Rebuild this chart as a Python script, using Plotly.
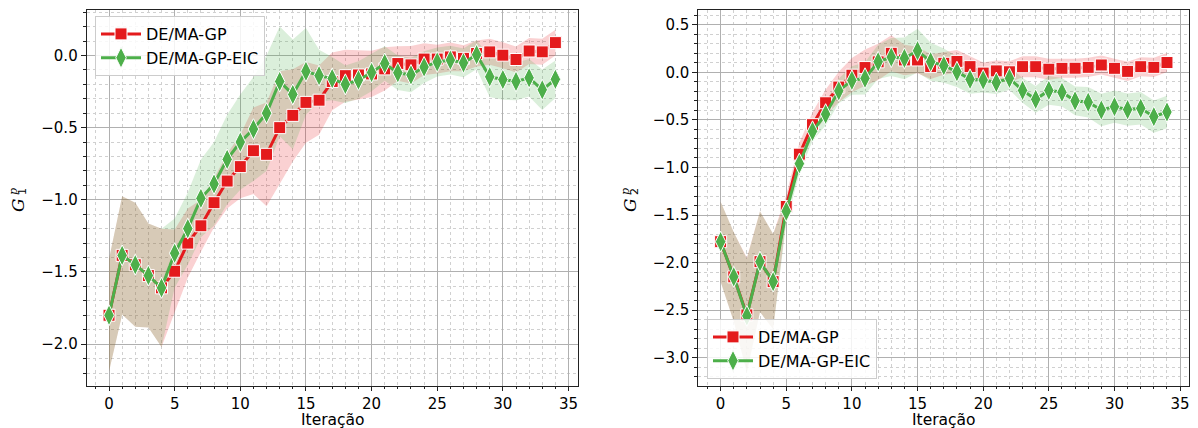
import plotly.graph_objects as go

iters = list(range(35))

# Left panel (G1^p)
g1_gp_mean = [-1.80, -1.385, -1.45, -1.525, -1.61, -1.495, -1.30, -1.18, -1.02, -0.87,
              -0.77, -0.66, -0.685, -0.50, -0.415, -0.325, -0.31, -0.18, -0.14, -0.135,
              -0.128, -0.093, -0.056, -0.065, -0.025, -0.025, -0.01, -0.02, 0.014, 0.025,
              0.002, -0.028, 0.031, 0.025, 0.089]
g1_gp_std = [0.39, 0.41, 0.43, 0.36, 0.41, 0.29, 0.24, 0.18, 0.17, 0.19,
             0.22, 0.30, 0.36, 0.39, 0.32, 0.28, 0.24, 0.20, 0.18, 0.17,
             0.16, 0.15, 0.12, 0.13, 0.11, 0.10, 0.10, 0.09, 0.09, 0.09,
             0.09, 0.09, 0.09, 0.09, 0.09]
g1_eic_mean = [-1.80, -1.385, -1.45, -1.525, -1.61, -1.37, -1.20, -0.99, -0.89, -0.72,
               -0.60, -0.51, -0.40, -0.18, -0.27, -0.11, -0.14, -0.16, -0.20, -0.17,
               -0.118, -0.056, -0.12, -0.135, -0.08, -0.045, -0.032, -0.051, 0.005, -0.148,
               -0.167, -0.18, -0.155, -0.238, -0.165]
g1_eic_std = [0.39, 0.41, 0.43, 0.36, 0.41, 0.24, 0.25, 0.27, 0.29, 0.31,
              0.33, 0.36, 0.40, 0.38, 0.38, 0.30, 0.18, 0.15, 0.13, 0.13,
              0.13, 0.12, 0.12, 0.12, 0.11, 0.10, 0.10, 0.10, 0.10, 0.14,
              0.14, 0.13, 0.13, 0.14, 0.13]

# Right panel (G2^p)
g2_gp_mean = [-1.78, -2.15, -2.55, -1.99, -2.20, -1.41, -0.86, -0.55, -0.32, -0.155,
              -0.03, 0.05, 0.11, 0.20, 0.13, 0.13, 0.06, 0.095, 0.115, 0.06,
              -0.008, 0.015, 0.006, 0.059, 0.059, 0.033, 0.042, 0.043, 0.052, 0.077,
              0.042, 0.01, 0.059, 0.052, 0.103]
g2_gp_std = [0.42, 0.47, 0.60, 0.53, 0.50, 0.12, 0.12, 0.13, 0.14, 0.16,
             0.18, 0.19, 0.19, 0.19, 0.16, 0.14, 0.13, 0.12, 0.12, 0.11,
             0.11, 0.11, 0.11, 0.11, 0.11, 0.11, 0.10, 0.10, 0.10, 0.10,
             0.10, 0.10, 0.10, 0.10, 0.10]
g2_eic_mean = [-1.78, -2.15, -2.56, -1.99, -2.20, -1.46, -0.96, -0.62, -0.44, -0.195,
               -0.085, -0.063, 0.111, 0.16, 0.147, 0.227, 0.111, 0.07, 0.006, -0.074,
               -0.081, -0.107, -0.063, -0.19, -0.284, -0.19, -0.21, -0.30, -0.314, -0.396,
               -0.361, -0.392, -0.378, -0.466, -0.417]
g2_eic_std = [0.42, 0.47, 0.60, 0.53, 0.50, 0.12, 0.10, 0.10, 0.12, 0.13,
              0.15, 0.17, 0.18, 0.20, 0.22, 0.23, 0.20, 0.18, 0.16, 0.15,
              0.13, 0.12, 0.12, 0.13, 0.14, 0.15, 0.15, 0.15, 0.16, 0.17,
              0.17, 0.17, 0.17, 0.17, 0.17]

series_names = ["DE/MA-GP", "DE/MA-GP-EIC"]
x_title = "Iteração"
y_sub = ["1", "2"]

RED = "#e41a1c"
GREEN = "#4daf4a"
RED_FILL = "rgba(228,26,28,0.2)"
GREEN_FILL = "rgba(77,175,74,0.2)"

W, H = 1198, 428
def fx(px):
    return px / W
def fy(py):
    return 1 - py / H

fig = go.Figure()

panels = [
    ("x", "y", "legend", g1_gp_mean, g1_gp_std, g1_eic_mean, g1_eic_std),
    ("x2", "y2", "legend2", g2_gp_mean, g2_gp_std, g2_eic_mean, g2_eic_std),
]

for xa, ya, leg, gm, gs, em, es in panels:
    for mean, std, fill in [(gm, gs, RED_FILL), (em, es, GREEN_FILL)]:
        upper = [m + s for m, s in zip(mean, std)]
        lower = [m - s for m, s in zip(mean, std)]
        fig.add_trace(go.Scatter(x=iters, y=upper, mode="lines", line=dict(width=0),
                                 xaxis=xa, yaxis=ya, showlegend=False, hoverinfo="skip"))
        fig.add_trace(go.Scatter(x=iters, y=lower, mode="lines", line=dict(width=0),
                                 fill="tonexty", fillcolor=fill,
                                 xaxis=xa, yaxis=ya, showlegend=False, hoverinfo="skip"))
    fig.add_trace(go.Scatter(x=iters, y=gm, mode="lines+markers", name=series_names[0],
                             line=dict(color=RED, width=3),
                             marker=dict(symbol="square", size=12, color=RED,
                                         line=dict(color="white", width=1)),
                             xaxis=xa, yaxis=ya, legend=leg))
    fig.add_trace(go.Scatter(x=iters, y=em, mode="lines+markers", name=series_names[1],
                             line=dict(color=GREEN, width=3),
                             marker=dict(symbol="diamond-tall", size=15, color=GREEN,
                                         line=dict(color="white", width=1)),
                             xaxis=xa, yaxis=ya, legend=leg))

font = dict(family="DejaVu Sans", size=15, color="black")

common_x = dict(range=[-1.7, 35.7], dtick=5, tick0=0, showline=True, mirror=True,
                linecolor="#222", linewidth=1, ticks="outside", ticklen=4,
                tickcolor="#222", showgrid=True, gridcolor="#b0b0b0", gridwidth=1,
                zeroline=False, tickfont=font, automargin=False,
                minor=dict(dtick=1, showgrid=True, gridcolor="#d0d0d0", griddash="dot",
                           ticks="outside", ticklen=2, tickcolor="#222"))
common_y = dict(dtick=0.5, showline=True, mirror=True, linecolor="#222", linewidth=1,
                ticks="outside", ticklen=5, tickcolor="#222", showgrid=True,
                gridcolor="#b0b0b0", gridwidth=1, zeroline=False, tickfont=font,
                tickformat=".1f", automargin=False,
                minor=dict(dtick=0.1, showgrid=True, gridcolor="#d0d0d0", griddash="dot",
                           ticks="outside", ticklen=3, tickcolor="#222"))

legend_style = dict(bgcolor="rgba(255,255,255,0.85)", bordercolor="#cccccc", borderwidth=1,
                    font=dict(family="DejaVu Sans", size=16, color="black"),
                    tracegroupgap=0, itemwidth=40, traceorder="normal")

def ann(text, px, py, size, family="DejaVu Sans", angle=0):
    return dict(text=text, x=fx(px), y=fy(py), xref="paper", yref="paper",
                xanchor="center", yanchor="middle", showarrow=False, textangle=angle,
                font=dict(family=family, size=size, color="black"))

annots = []
for cx in (333, 944):
    annots.append(ann(x_title, cx, 419.5, 15.5))
for gx, sub in zip((18, 630), y_sub):
    annots.append(ann("<i>G</i>", gx, 205, 17, "DejaVu Serif", -90))
    annots.append(ann(sub, gx + 4, 192, 11, "DejaVu Sans", -90))
    annots.append(ann("<i>p</i>", gx - 5, 192, 11, "DejaVu Serif", -90))

ydom = [fy(386), fy(10)]
fig.update_layout(
    width=W, height=H,
    margin=dict(l=0, r=0, t=0, b=0),
    paper_bgcolor="white", plot_bgcolor="white",
    font=font,
    xaxis=dict(domain=[fx(86.7), fx(577.7)], anchor="y", **common_x),
    yaxis=dict(domain=ydom, anchor="x", range=[-2.29, 0.315], tick0=0, **common_y),
    xaxis2=dict(domain=[fx(698.3), fx(1189.3)], anchor="y2", **common_x),
    yaxis2=dict(domain=ydom, anchor="x2", range=[-3.297, 0.655], tick0=0, **common_y),
    legend=dict(x=fx(95), y=fy(16), xanchor="left", yanchor="top", **legend_style),
    legend2=dict(x=fx(707), y=fy(379), xanchor="left", yanchor="bottom", **legend_style),
    annotations=annots,
)

fig.write_html("out.html", config={"displayModeBar": False},
               post_script="document.body.style.margin='0';document.body.style.padding='0';"
                           "document.body.style.overflow='hidden';")
